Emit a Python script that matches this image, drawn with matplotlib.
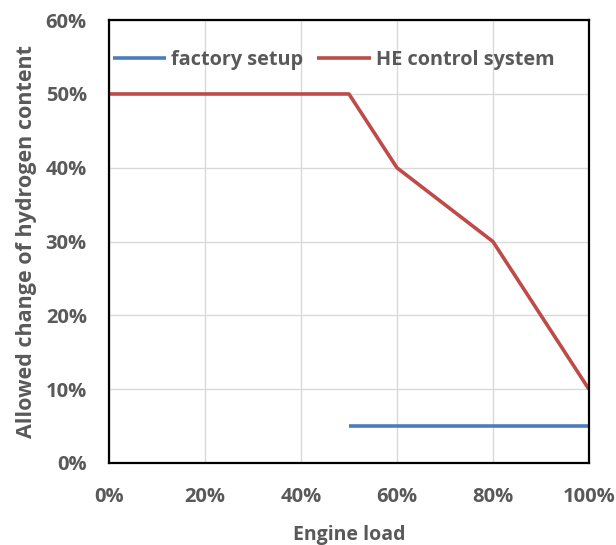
"""Allowed change of hydrogen content vs engine load."""

import matplotlib.pyplot as plt
import matplotlib.ticker as mticker

plt.rcParams["font.family"] = ["Open Sans", "DejaVu Sans"]
plt.rcParams["font.weight"] = "bold"

TEXT = "#595959"

# data (fractions)
he_load     = [0.0, 0.5, 0.6, 0.8, 1.0]
he_allowed  = [0.50, 0.50, 0.40, 0.30, 0.10]
fac_load    = [0.5, 1.0]
fac_allowed = [0.05, 0.05]

fig = plt.figure(figsize=(6.16, 5.45), dpi=100)
ax = fig.add_axes([0.177, 0.1505, 0.779, 0.8125])

ax.plot(fac_load, fac_allowed, color="#4A7EBB", linewidth=2.6,
        solid_capstyle="butt", label="factory setup")
ax.plot(he_load, he_allowed, color="#BE4B48", linewidth=2.6,
        solid_capstyle="butt", label="HE control system")

ax.set_xlim(0, 1)
ax.set_ylim(0, 0.6)
ax.xaxis.set_major_locator(mticker.MultipleLocator(0.2))
ax.yaxis.set_major_locator(mticker.MultipleLocator(0.1))
pct = mticker.FuncFormatter(lambda v, _: f"{v * 100:.0f}%")
ax.xaxis.set_major_formatter(pct)
ax.yaxis.set_major_formatter(pct)

ax.grid(True, color="#D9D9D9", linewidth=1.0)
ax.set_axisbelow(True)
for s in ax.spines.values():
    s.set_color("black")
    s.set_linewidth(1.6)
ax.tick_params(length=0, labelsize=14.5, labelcolor=TEXT)
ax.tick_params(axis="x", pad=17)
ax.tick_params(axis="y", pad=16)
for lab in ax.get_xticklabels() + ax.get_yticklabels():
    lab.set_fontweight("bold")

ax.set_xlabel("Engine load", fontsize=14, color=TEXT, fontweight="bold", labelpad=13)
ax.set_ylabel("Allowed change of hydrogen content", fontsize=15.5, color=TEXT,
              fontweight="bold", labelpad=6)

leg = ax.legend(loc="center left", bbox_to_anchor=(0.008, 0.91), ncol=2,
                frameon=False, fontsize=14.3, handlelength=2.7,
                handletextpad=0.25, columnspacing=0.7,
                borderpad=0, borderaxespad=0)
for t in leg.get_texts():
    t.set_color(TEXT)
    t.set_fontweight("bold")

fig.savefig("out.png", dpi=100)
